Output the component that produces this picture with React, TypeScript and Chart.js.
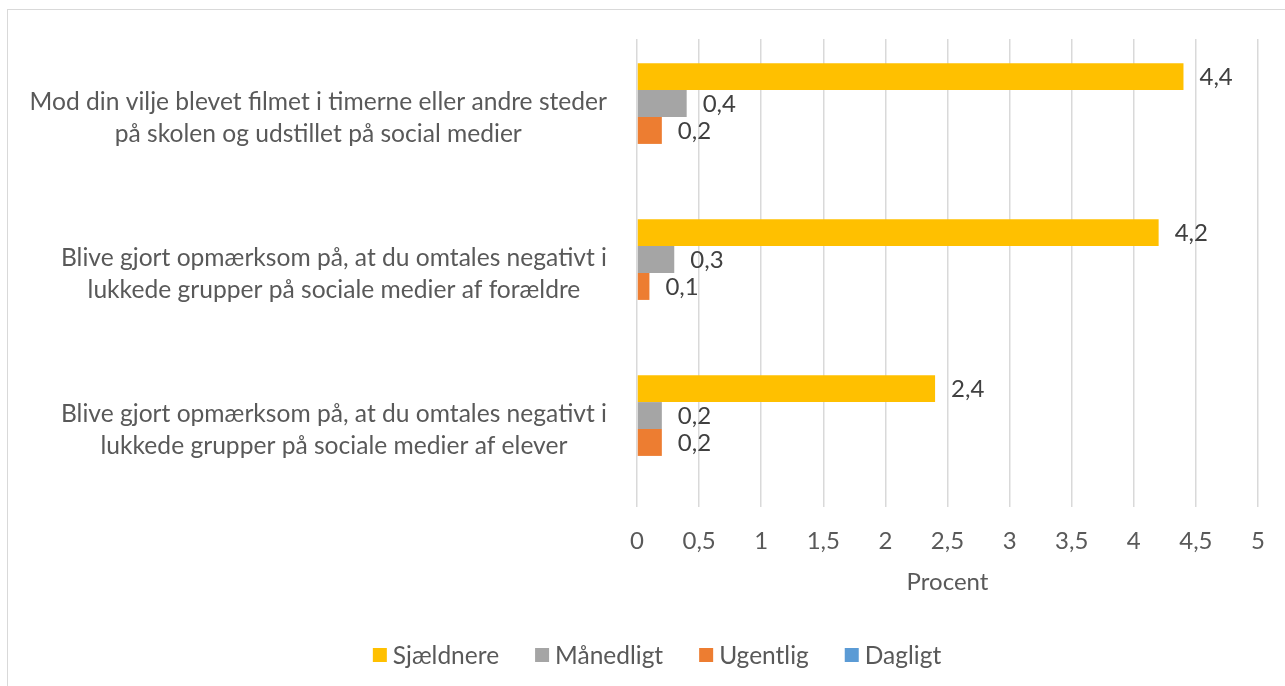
import React, { useEffect, useRef } from "react";
import { Chart, registerables } from "chart.js";

Chart.register(...registerables);

const categories: string[][] = [
  ["Mod din vilje blevet filmet i timerne eller andre steder", "på skolen og udstillet på social medier"],
  ["Blive gjort opmærksom på, at du omtales negativt i", "lukkede grupper på sociale medier af forældre"],
  ["Blive gjort opmærksom på, at du omtales negativt i", "lukkede grupper på sociale medier af elever"],
];
const seriesNames = ["Sjældnere", "Månedligt", "Ugentlig", "Dagligt"];
const sjaeldnere = [4.4, 4.2, 2.4];
const maanedligt = [0.4, 0.3, 0.2];
const ugentlig = [0.2, 0.1, 0.2];
const dagligt: (number | null)[] = [null, null, null];
const seriesColors = ["#FFC000", "#A5A5A5", "#ED7D31", "#5B9BD5"];
const xMin = 0;
const xMax = 5;
const xStep = 0.5;
const axisTitle = "Procent";

const FONT = "Lato, 'Open Sans', sans-serif";
const TEXT = "#595959";
const fmt = (v: number) => String(v).replace(".", ",");

const valueLabels = {
  id: "valueLabels",
  afterDatasetsDraw(chart: any) {
    const ctx = chart.ctx;
    ctx.save();
    ctx.font = `24px ${FONT}`;
    ctx.fillStyle = "#404040";
    ctx.textAlign = "left";
    ctx.textBaseline = "middle";
    chart.data.datasets.forEach((ds: any, di: number) => {
      const meta = chart.getDatasetMeta(di);
      meta.data.forEach((bar: any, i: number) => {
        const v = ds.data[i];
        if (v === null || v === undefined) return;
        ctx.fillText(fmt(v), bar.x + 16, bar.y + 1);
      });
    });
    ctx.restore();
  },
};

// Category labels: each wrapped block right-aligned to the axis, lines centred within the block
const categoryLabels = {
  id: "categoryLabels",
  afterDraw(chart: any) {
    const ctx = chart.ctx;
    const yScale = chart.scales.y;
    ctx.save();
    ctx.font = `24.6px ${FONT}`;
    ctx.fillStyle = TEXT;
    ctx.textAlign = "center";
    ctx.textBaseline = "middle";
    const lineH = 32;
    const rightEdge = yScale.right - 30;
    (chart.data.labels as string[][]).forEach((lines, i) => {
      const py = yScale.getPixelForTick(i);
      const w = Math.max(...lines.map((l) => ctx.measureText(l).width));
      const cx = rightEdge - w / 2;
      const y0 = py - ((lines.length - 1) * lineH) / 2;
      lines.forEach((l, j) => ctx.fillText(l, cx, y0 + j * lineH + 1));
    });
    ctx.restore();
  },
};

const customLegend = {
  id: "customLegend",
  afterDraw(chart: any) {
    const ctx = chart.ctx;
    ctx.save();
    ctx.font = `24.5px ${FONT}`;
    ctx.textBaseline = "middle";
    ctx.textAlign = "left";
    const box = 14;
    const gap = 6;
    const spacing = 36;
    const items = chart.data.datasets.map((ds: any) => ({
      label: ds.label,
      color: ds.backgroundColor,
      w: ctx.measureText(ds.label).width,
    }));
    const total = items.reduce((s: number, it: any) => s + box + gap + it.w, 0) + spacing * (items.length - 1);
    const centerX = 657;
    const cy = 655;
    let x = centerX - total / 2;
    items.forEach((it: any) => {
      ctx.fillStyle = it.color;
      ctx.fillRect(x, cy - box / 2, box, box);
      ctx.fillStyle = TEXT;
      ctx.fillText(it.label, x + box + gap, cy + 1);
      x += box + gap + it.w + spacing;
    });
    ctx.restore();
  },
};

export default function App() {
  const ref = useRef<HTMLCanvasElement>(null);
  useEffect(() => {
    if (!ref.current) return;
    const seriesData = [sjaeldnere, maanedligt, ugentlig, dagligt];
    const chart = new Chart(ref.current, {
      type: "bar",
      data: {
        labels: categories,
        datasets: seriesNames.map((name, i) => ({
          label: name,
          data: seriesData[i] as any,
          backgroundColor: seriesColors[i],
          borderWidth: 0,
          barPercentage: 1,
          categoryPercentage: 0.69,
        })),
      },
      options: {
        indexAxis: "y",
        responsive: true,
        maintainAspectRatio: false,
        animation: false,
        layout: { padding: { top: 39, right: 27, bottom: 89, left: 0 } },
        scales: {
          x: {
            min: xMin,
            max: xMax,
            ticks: {
              stepSize: xStep,
              callback: (v: any) => fmt(Number(v)),
              font: { size: 24, family: FONT, lineHeight: 1.2 },
              color: TEXT,
              padding: 20,
            },
            grid: { color: "#d9d9d9", lineWidth: 1.5, drawTicks: false },
            border: { display: false },
            title: {
              display: true,
              text: axisTitle,
              font: { size: 24, family: FONT, lineHeight: 1.2 },
              color: TEXT,
              padding: { top: 12, bottom: 0 },
            },
            afterFit: (scale: any) => {
              scale.height = 90;
              scale.paddingLeft = 0;
              scale.paddingRight = 0;
            },
          },
          y: {
            grid: { display: false, drawTicks: false },
            border: { display: false },
            ticks: { display: false },
            afterFit: (scale: any) => {
              scale.width = 637;
              scale.paddingTop = 0;
              scale.paddingBottom = 0;
            },
          },
        },
        plugins: {
          legend: { display: false },
          tooltip: { enabled: false },
        },
      },
      plugins: [valueLabels, categoryLabels, customLegend],
    });
    return () => chart.destroy();
  }, []);

  return (
    <div style={{ position: "absolute", left: 0, top: 0, width: 1285, height: 686, overflow: "hidden", background: "#fff" }}>
      <div style={{ position: "absolute", left: 7, top: 9, width: 1300, height: 700, border: "1px solid #d9d9d9", boxSizing: "border-box" }} />
      <canvas ref={ref} style={{ position: "absolute", left: 0, top: 0, width: 1285, height: 686 }} width={1285} height={686} />
    </div>
  );
}
